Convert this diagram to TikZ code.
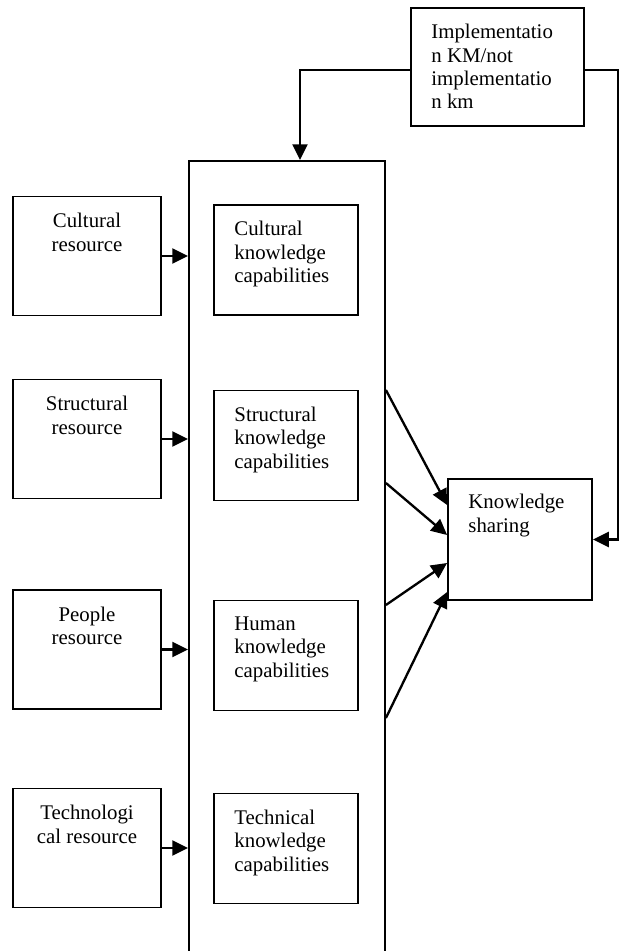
\documentclass[tikz,border=0pt]{standalone}
\usepackage{fontspec}
\setmainfont{Liberation Serif}
\usetikzlibrary{arrows.meta, positioning}

\begin{document}
\begin{tikzpicture}[
  x=0.6pt, y=-0.6pt,
  resbox/.style={
    draw, line width=1.1pt, inner sep=0pt,
    minimum width=88.8pt, minimum height=71.4pt
  },
  capbox/.style={
    draw, line width=1.1pt, inner sep=0pt,
    minimum width=86.4pt, minimum height=66pt
  },
  ctxt/.style={anchor=north, align=center, inner sep=0pt, font=\fontsize{12.5}{14}\selectfont},
  ltxt/.style={anchor=north west, align=left, inner sep=0pt, font=\fontsize{12.5}{14}\selectfont},
  arr/.style={-{Triangle[length=9.5pt, width=9pt]}, line width=1.4pt}
]
  \useasboundingbox (0,0) rectangle (622,951);
  \clip (0,0) rectangle (622,951);

  % outer frame of the capabilities
  \node[draw, line width=1.1pt, inner sep=0pt, minimum width=117.6pt, minimum height=503.4pt] (cont) at (287,580.5) {};

  % resources
  \node[resbox] (cultres) at (87,256) {};
  \node[resbox] (strucres) at (87,439) {};
  \node[resbox] (peopres) at (87,649.5) {};
  \node[resbox] (techres) at (87,848) {};
  \node[ctxt, below=10.5pt of cultres.north] (cultrestxt) {Cultural\\resource};
  \node[ctxt, below=10.5pt of strucres.north] (strucrestxt) {Structural\\resource};
  \node[ctxt, below=10.5pt of peopres.north] (peoprestxt) {People\\resource};
  \node[ctxt, below=10.5pt of techres.north] (techrestxt) {Technologi\\cal resource};

  % knowledge capabilities
  \node[capbox] (cultcap) at (286,260) {};
  \node[capbox] (struccap) at (286,445.5) {};
  \node[capbox] (humcap) at (286,655.5) {};
  \node[capbox] (techcap) at (286,848.5) {};
  \node[ltxt, below right=10.2pt and 12.6pt of cultcap.north west] (cultcaptxt) {Cultural\\knowledge\\capabilities};
  \node[ltxt, below right=10.2pt and 12.6pt of struccap.north west] (struccaptxt) {Structural\\knowledge\\capabilities};
  \node[ltxt, below right=10.2pt and 12.6pt of humcap.north west] (humcaptxt) {Human\\knowledge\\capabilities};
  \node[ltxt, below right=10.2pt and 12.6pt of techcap.north west] (techcaptxt) {Technical\\knowledge\\capabilities};

  % moderator and outcome
  \node[draw, line width=1.1pt, inner sep=0pt, minimum width=103.8pt, minimum height=70.8pt] (impl) at (497.5,67) {};
  \node[ltxt, below right=10.2pt and 12.6pt of impl.north west] (impltxt) {Implementatio\\n KM/not\\implementatio\\n km};
  \node[draw, line width=1.1pt, inner sep=0pt, minimum width=86.4pt, minimum height=72.6pt] (ks) at (520,539.5) {};
  \node[ltxt, below right=9.6pt and 12.6pt of ks.north west] (kstxt) {Knowledge\\sharing};

  % arrows
  \draw[arr] (cultres.east) -- (cultres.east -| cont.west);
  \draw[arr] (strucres.east) -- (strucres.east -| cont.west);
  \draw[arr] (peopres.east) -- (peopres.east -| cont.west);
  \draw[arr] (techres.east) -- (techres.east -| cont.west);

  \draw[arr] (cont.east |- 0,390) -- (ks.west |- 0,505);
  \draw[arr] (cont.east |- 0,483) -- (ks.west |- 0,535);
  \draw[arr] (cont.east |- 0,605) -- (ks.west |- 0,563);
  \draw[arr] (cont.east |- 0,718) -- (ks.west |- 0,592);

  \draw[arr] (impl.west |- 0,70) -| (cont.north -| 300,0);
  \draw[arr] (impl.east |- 0,70) -- (618,70) |- (ks.east);
\end{tikzpicture}
\end{document}
